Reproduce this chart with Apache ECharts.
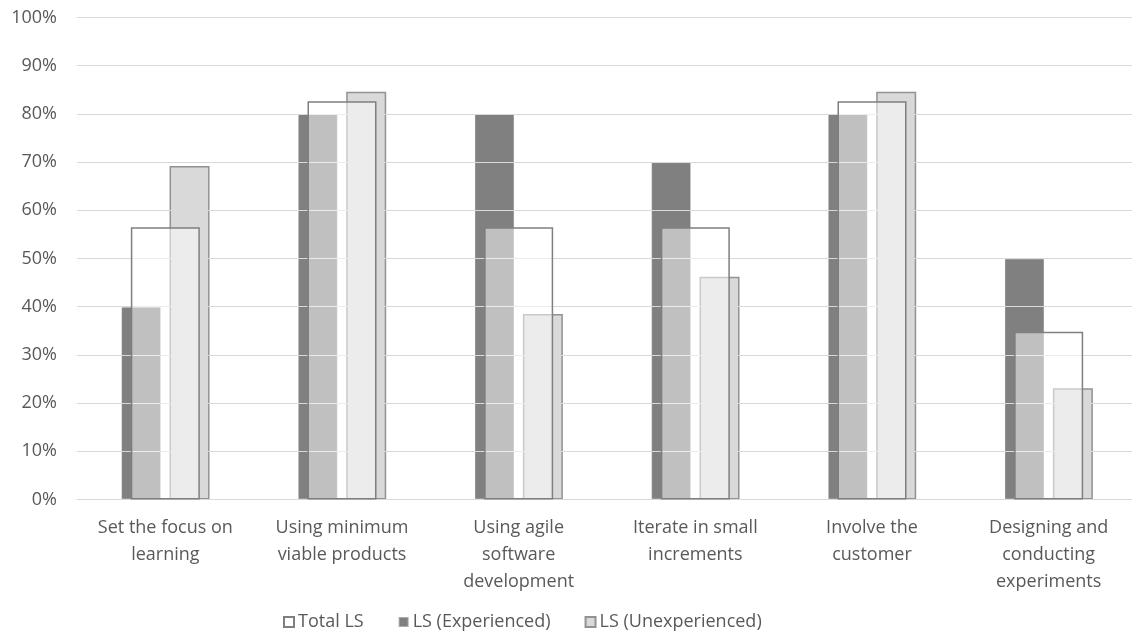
<!DOCTYPE html>
<html>
<head>
<meta charset="utf-8">
<script src="https://cdn.jsdelivr.net/npm/echarts@6/dist/echarts.min.js"></script>
<style>
  html, body { margin: 0; padding: 0; background: #ffffff; }
  #chart { width: 1132px; height: 631px; }
</style>
</head>
<body>
<div id="chart"></div>
<script>
// Share of respondents applying each lean startup practice (percent)
const categories = [
  'Set the focus on\nlearning',
  'Using minimum\nviable products',
  'Using agile\nsoftware\ndevelopment',
  'Iterate in small\nincrements',
  'Involve the\ncustomer',
  'Designing and\nconducting\nexperiments'
];
const totalLS = [56.5, 82.6, 56.5, 56.5, 82.6, 34.8];
const experiencedLS = [40, 80, 80, 70, 80, 50];
const unexperiencedLS = [69.2, 84.6, 38.5, 46.2, 84.6, 23.1];
const seriesNames = ['Total LS', 'LS (Experienced)', 'LS (Unexperienced)'];

const FONT = '"Open Sans", "Liberation Sans", sans-serif';
const TEXT = '#595959';
const GRID_LINE = '#D9D9D9';

const chart = echarts.init(document.getElementById('chart'), null, { renderer: 'canvas' });

chart.setOption({
  animation: false,
  backgroundColor: '#ffffff',
  textStyle: { fontFamily: FONT },
  grid: {
    left: 77, right: -5, top: 17.5, bottom: 131.5,
    containLabel: false, outerBoundsMode: 'none'
  },
  legend: {
    data: seriesNames,
    left: 283, top: 613,
    padding: 0,
    itemWidth: 10, itemHeight: 10, itemGap: 34,
    icon: 'rect',
    textStyle: { color: TEXT, fontSize: 18, fontFamily: FONT, padding: [0, 0, 0, -1] }
  },
  xAxis: [
    {
      type: 'category',
      data: categories,
      z: 3,
      axisLine: { lineStyle: { color: GRID_LINE, width: 1 } },
      axisTick: { show: false },
      axisLabel: {
        interval: 0, margin: 15, color: TEXT, fontSize: 18,
        fontFamily: FONT, lineHeight: 27
      }
    },
    {
      // overlay axis for the wide total bars
      type: 'category',
      data: categories,
      show: false
    }
  ],
  yAxis: {
    type: 'value',
    min: 0, max: 100, interval: 10,
    z: 3,
    axisLine: { show: false },
    axisTick: { show: false },
    splitLine: { lineStyle: { color: GRID_LINE, width: 1 } },
    axisLabel: {
      formatter: '{value}%', margin: 20, color: TEXT,
      fontSize: 18, fontFamily: FONT
    }
  },
  series: [
    {
      name: seriesNames[1],
      type: 'bar',
      xAxisIndex: 0,
      data: experiencedLS,
      barWidth: 40,
      barGap: '21%',
      z: 2,
      itemStyle: { color: '#808080', borderColor: 'rgba(255,255,255,0.35)', borderWidth: 1 }
    },
    {
      name: seriesNames[2],
      type: 'bar',
      xAxisIndex: 0,
      data: unexperiencedLS,
      barWidth: 40,
      z: 2,
      itemStyle: { color: '#D9D9D9', borderColor: '#929292', borderWidth: 1.5 }
    },
    {
      name: seriesNames[0],
      type: 'bar',
      xAxisIndex: 1,
      data: totalLS,
      barWidth: 69,
      z: 4,
      itemStyle: { color: 'rgba(255,255,255,0.5)', borderColor: '#7F7F7F', borderWidth: 1.5 }
    }
  ]
});
</script>
</body>
</html>
